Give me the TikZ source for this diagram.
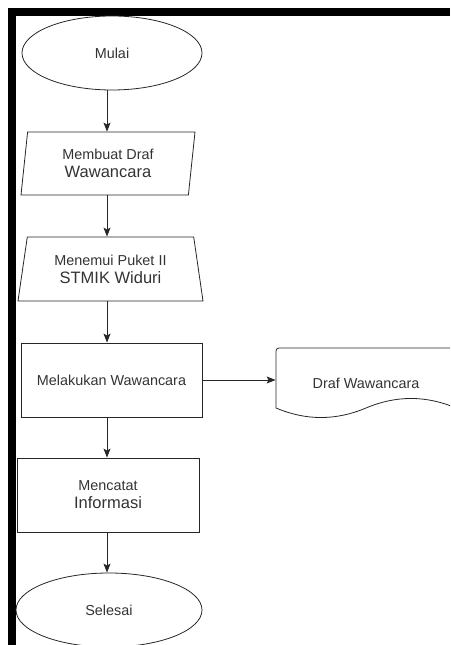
\documentclass[tikz,border=0pt]{standalone}
\usepackage{fontspec}
\setmainfont{Liberation Sans}
\usetikzlibrary{shapes.geometric,arrows.meta}

\newcommand{\besar}{\fontsize{16.5}{18}\selectfont}

\begin{document}
\begin{tikzpicture}[x=1pt,y=1pt,
  base/.style={draw=black!85, line width=0.8pt, text=black!80, inner sep=0pt,
    font=\fontsize{14.4}{18}\selectfont, align=center},
  terminal/.style={base, ellipse, minimum height=74pt},
  proses/.style={base, rectangle, minimum height=74pt},
  masukan/.style={base, trapezium, trapezium stretches body,
    minimum height=63pt, minimum width=174pt,
    trapezium left angle=77, trapezium right angle=103},
  manual/.style={base, trapezium, trapezium stretches body,
    minimum height=64pt, minimum width=185pt,
    trapezium left angle=72, trapezium right angle=72},
  panah/.style={draw=black!85, line width=0.8pt,
    -{Stealth[length=9pt,width=7pt,inset=2pt]}}]
\useasboundingbox (0,0) rectangle (450,645);
\clip (0,0) rectangle (450,645);

% --- FRAME ---
  \draw[line width=8pt] (12,0) -- (12,633) -- (450,633);

% --- FLOW ---
  % nodes
  \node[terminal, minimum width=180pt] (mulai) at (112,592) {Mulai};
  \node[masukan] (draf) at (108,481.5) {Membuat Draf\\\besar Wawancara};
  \node[manual] (menemui) at (110.5,376) {Menemui Puket II\\\besar STMIK Widuri};
  \node[proses, minimum width=181pt] (wawancara) at (111.5,265) {Melakukan Wawancara};
  \node[proses, minimum width=182pt] (catat) at (108,150) {Mencatat\\\besar Informasi};
  \node[terminal, minimum width=186pt] (selesai) at (109,35) {Selesai};

  % document
  \node[base, draw=none, minimum width=180pt, minimum height=70.6pt] (dokumen) at (366,261.7) {Draf Wawancara};
  \draw[draw=black!85, line width=0.8pt]
    (276,237) -- (276,294) arc[start angle=180, end angle=90, radius=3] -- (456,297) -- (456,237)
    .. controls (426,249.7) and (396,249.7) .. (366,237)
    .. controls (336,224.3) and (306,224.3) .. (276,237) -- cycle;

  % connectors
  \coordinate (spine) at (107,0);
  \draw[panah] (mulai.south -| spine) -- (draf.north -| spine);
  \draw[panah] (draf.south -| spine) -- (menemui.north -| spine);
  \draw[panah] (menemui.south -| spine) -- (wawancara.north -| spine);
  \draw[panah] (wawancara.east) -- (wawancara.east -| dokumen.west);
  \draw[panah] (wawancara.south -| spine) -- (catat.north -| spine);
  \draw[panah] (catat.south -| spine) -- (selesai.north -| spine);
\end{tikzpicture}
\end{document}
